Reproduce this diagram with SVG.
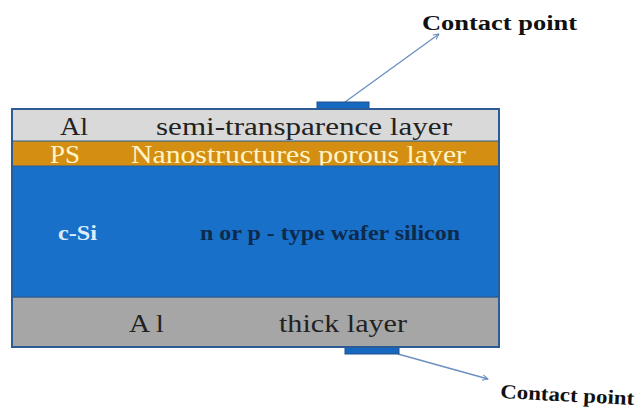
<svg xmlns="http://www.w3.org/2000/svg" width="637" height="410" viewBox="0 0 637 410">
<style>
.serif{font-family:"Liberation Serif","DejaVu Serif",serif}
.lbl{font-size:26px}
.conn{stroke:#6b8fbf;stroke-width:1.3;fill:none}
.ct{font-family:"Liberation Serif","DejaVu Serif",serif;font-weight:bold;fill:#111}
</style>
<defs>
<marker id="ah" viewBox="0 0 10 10" refX="9" refY="5" markerWidth="7" markerHeight="7" orient="auto" markerUnits="userSpaceOnUse">
<path d="M1,1 L9,5 L1,9" fill="none" stroke="#6b8fbf" stroke-width="1.5"/>
</marker>
</defs>
<rect width="637" height="410" fill="#ffffff"/>
<g id="connectors">
<line class="conn" x1="345" y1="102" x2="439" y2="34" marker-end="url(#ah)"/>
<line class="conn" x1="398" y1="354" x2="488" y2="379" marker-end="url(#ah)"/>
</g>
<g id="top-contact">
<rect x="317" y="102" width="52" height="7" fill="#1668c0" stroke="#244f85" stroke-width="1"/>
</g>
<g id="bottom-contact">
<rect x="345" y="347" width="54" height="7" fill="#1668c0" stroke="#244f85" stroke-width="1"/>
</g>
<g id="al-top">
<rect x="12" y="109" width="487" height="32" fill="#d9d9d9"/>
<text class="serif lbl" x="60" y="135" fill="#222" textLength="28" lengthAdjust="spacingAndGlyphs">Al</text>
<text class="serif lbl" x="156" y="135" fill="#222" textLength="296" lengthAdjust="spacingAndGlyphs">semi-transparence layer</text>
</g>
<g id="ps">
<rect x="12" y="141" width="487" height="25" fill="#d48f12"/>
<text class="serif lbl" x="50" y="163" fill="#fff4c8" textLength="30" lengthAdjust="spacingAndGlyphs">PS</text>
<text class="serif lbl" x="131" y="163" fill="#fff4c8" textLength="335" lengthAdjust="spacingAndGlyphs">Nanostructures porous layer</text>
</g>
<g id="csi">
<rect x="12" y="166" width="487" height="131" fill="#1870c8"/>
<text class="serif" x="58" y="240" font-size="21" font-weight="bold" fill="#dcecff" textLength="39" lengthAdjust="spacingAndGlyphs">c-Si</text>
<text class="serif" x="200" y="240" font-size="21" font-weight="bold" fill="#0d2a4c" textLength="260" lengthAdjust="spacingAndGlyphs">n or p - type wafer silicon</text>
</g>
<g id="al-bottom">
<rect x="12" y="297" width="487" height="50" fill="#a6a6a6"/>
<text class="serif lbl" x="129" y="332" fill="#222" textLength="35" lengthAdjust="spacingAndGlyphs">A l</text>
<text class="serif lbl" x="279" y="332" fill="#222" textLength="128" lengthAdjust="spacingAndGlyphs">thick layer</text>
</g>
<g id="frame">
<rect x="12" y="109" width="487" height="238" fill="none" stroke="#2d5c94" stroke-width="2"/>
<line x1="12" y1="141" x2="499" y2="141" stroke="#2d5c94" stroke-width="1"/>
<line x1="12" y1="166" x2="499" y2="166" stroke="#2d5c94" stroke-width="1"/>
<line x1="12" y1="297" x2="499" y2="297" stroke="#2d5c94" stroke-width="1.5"/>
</g>
<g id="labels">
<text class="ct" x="422" y="30" font-size="20" textLength="155" lengthAdjust="spacingAndGlyphs">Contact point</text>
<text class="ct" x="500" y="398" font-size="20" textLength="134" lengthAdjust="spacingAndGlyphs" transform="rotate(3 500 398)">Contact point</text>
</g>
</svg>
